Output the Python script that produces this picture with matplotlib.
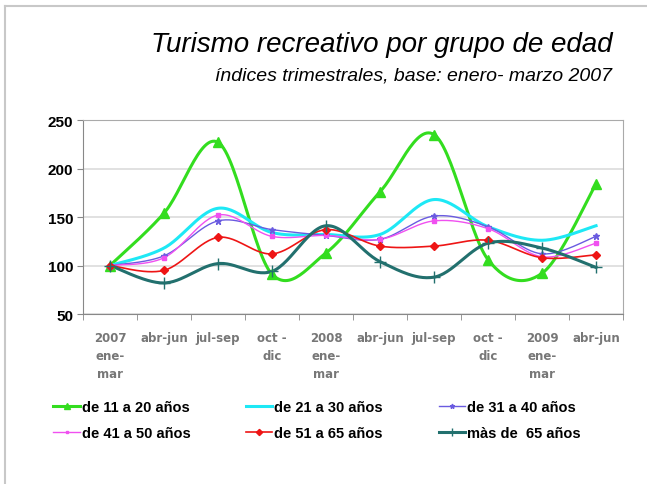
import matplotlib.pyplot as plt
from matplotlib.lines import Line2D
import numpy as np

# Quarterly indices (base: enero-marzo 2007 = 100)
quarters = ['2007\nene-\nmar', 'abr-jun', 'jul-sep', 'oct -\ndic', '2008\nene-\nmar',
            'abr-jun', 'jul-sep', 'oct -\ndic', '2009\nene-\nmar', 'abr-jun']
g11_20 = [100, 154, 227, 91, 113, 176, 235, 106, 92, 184]
g21_30 = [100, 118, 159, 134, 132, 132, 168, 140, 126, 141]
g31_40 = [100, 110, 146, 137, 131, 127, 151, 140, 112, 130]
g41_50 = [100, 108, 152, 130, 131, 127, 146, 138, 109, 123]
g51_65 = [100, 95, 129, 112, 137, 120, 120, 126, 108, 111]
g65_up = [100, 82, 102, 94, 141, 104, 88, 123, 118, 98]


def smooth(y, n=30):
    # Excel-style smoothed line: cubic Bezier with Catmull-Rom control points
    y = np.asarray(y, dtype=float)
    x = np.arange(len(y), dtype=float)
    pts = np.column_stack([x, y])
    out = []
    for i in range(len(pts) - 1):
        p0 = pts[max(i - 1, 0)]
        p1 = pts[i]
        p2 = pts[i + 1]
        p3 = pts[min(i + 2, len(pts) - 1)]
        c1 = p1 + (p2 - p0) / 6
        c2 = p2 - (p3 - p1) / 6
        t = np.linspace(0, 1, n)[:, None]
        seg = ((1 - t) ** 3) * p1 + 3 * ((1 - t) ** 2) * t * c1 + 3 * (1 - t) * t ** 2 * c2 + t ** 3 * p2
        out.append(seg if i == 0 else seg[1:])
    out = np.vstack(out)
    return out[:, 0], out[:, 1]


series = [
    ('de 11 a 20 años', g11_20, '#33dd1f', 2.2, '^', 7),
    ('de 21 a 30 años', g21_30, '#1ee8f5', 2.2, '', 0),
    ('de 31 a 40 años', g31_40, '#6a5be0', 1.0, '*', 5),
    ('de 41 a 50 años', g41_50, '#f050f0', 1.0, 's', 3),
    ('de 51 a 65 años', g51_65, '#ee1515', 1.2, 'D', 4.5),
    ('màs de  65 años', g65_up, '#22706e', 2.2, '+', 8),
]

fig = plt.figure(figsize=(6.47, 4.85), dpi=100)
ax = fig.add_axes([0.1283, 0.3505, 0.8347, 0.4])

x = np.arange(len(quarters))
handles = []
for label, vals, color, lw, mk, ms in series:
    sx, sy = smooth(vals)
    ax.plot(sx, sy, color=color, lw=lw, zorder=3)
    if mk:
        ax.plot(x, vals, ls='none', marker=mk, ms=ms, color=color,
                markeredgecolor=color, zorder=4)
    handles.append(Line2D([], [], color=color, lw=lw, marker=mk if mk else None,
                          ms=ms, markeredgecolor=color))

ax.set_xlim(-0.5, len(quarters) - 0.5)
ax.set_ylim(50, 250)
ax.set_yticks([50, 100, 150, 200, 250])
ax.yaxis.grid(True, color='#dcdcdc', lw=1.2)
ax.set_axisbelow(True)
ax.tick_params(axis='y', labelsize=11, length=4, color='#888888', pad=3)
for lbl in ax.get_yticklabels():
    lbl.set_fontweight('bold')
    lbl.set_family('Liberation Sans')

ax.set_xticks(x)
ax.set_xticklabels(quarters, fontsize=8.5, fontweight='bold', color='#777777',
                   linespacing=1.5)
ax.set_xticks(np.arange(-0.5, len(quarters)), minor=True)
ax.tick_params(axis='x', which='major', length=0, pad=12)
ax.tick_params(axis='x', which='minor', length=4, color='#888888')

for side in ['top', 'right']:
    ax.spines[side].set_color('#aaaaaa')
ax.spines['left'].set_color('#888888')
ax.spines['bottom'].set_color('#888888')

fig.text(0.946, 0.907, 'Turismo recreativo por grupo de edad', ha='right', va='center',
         fontsize=20, style='italic', family='Liberation Sans')
fig.text(0.946, 0.843, 'índices trimestrales, base: enero- marzo 2007', ha='right',
         va='center', fontsize=14, style='italic', family='Liberation Sans')

# legend is filled row by row in the reference
order = [0, 3, 1, 4, 2, 5]
leg = fig.legend([handles[i] for i in order], [series[i][0] for i in order], ncol=3,
                 loc='center', bbox_to_anchor=(0.49, 0.132), frameon=False,
                 handlelength=1.8, handletextpad=0.15, columnspacing=3.8,
                 labelspacing=0.85, markerscale=0.7,
                 prop={'weight': 'bold', 'size': 10.5, 'family': 'Liberation Sans'})

# panel border on left and top edges
fig.add_artist(Line2D([0.008, 0.008], [0, 0.985], color='#c8c8c8', lw=1.5))
fig.add_artist(Line2D([0.008, 1], [0.985, 0.985], color='#c8c8c8', lw=1.5))

fig.savefig('out.png', dpi=100)
